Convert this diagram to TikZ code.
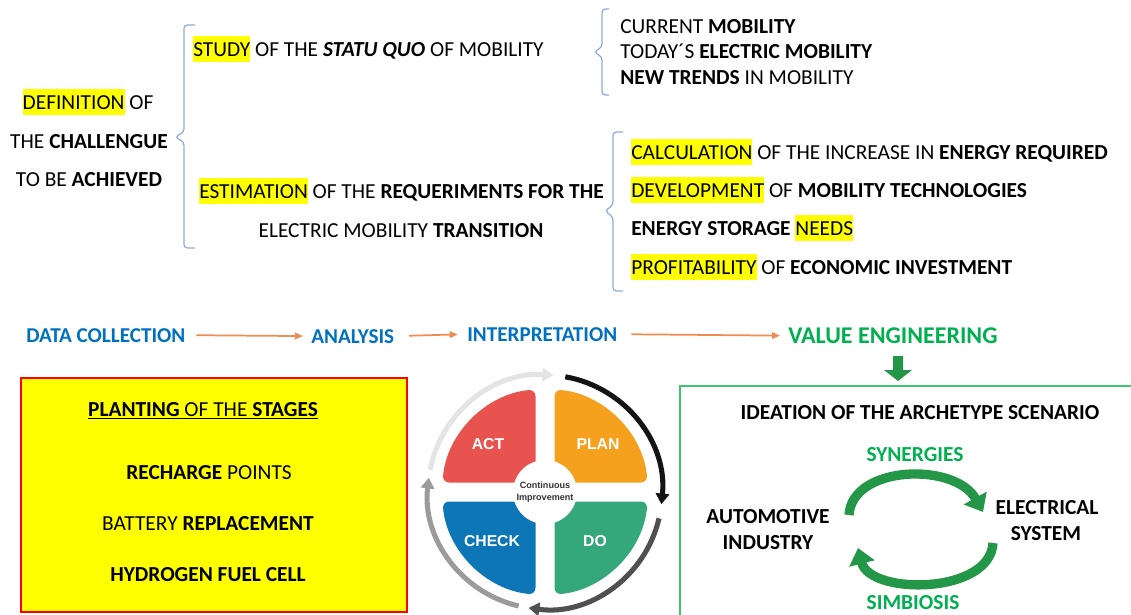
\documentclass[tikz,border=0pt]{standalone}
\usepackage{fontspec}
\setmainfont{Carlito}
\newfontfamily\arialf{Liberation Sans}
\usetikzlibrary{arrows.meta}
\definecolor{hlyellow}{RGB}{255,255,0}
\definecolor{bracecol}{RGB}{143,170,220}
\definecolor{rowblue}{RGB}{0,112,192}
\definecolor{vegreen}{RGB}{0,176,80}
\definecolor{arrorange}{RGB}{240,140,80}
\definecolor{boxgreen}{RGB}{60,200,110}
\definecolor{actred}{RGB}{233,83,79}
\definecolor{planorange}{RGB}{245,161,30}
\definecolor{checkblue}{RGB}{12,118,182}
\definecolor{dogreen}{RGB}{52,168,122}
\definecolor{cyclegreen}{RGB}{36,150,72}
\definecolor{ringA}{RGB}{228,228,228}
\definecolor{ringB}{RGB}{20,20,20}
\definecolor{ringC}{RGB}{80,80,80}
\definecolor{ringD}{RGB}{155,155,155}
\definecolor{ctext}{RGB}{50,50,50}
\newcommand\hl[1]{{\setlength{\fboxsep}{0pt}\colorbox{hlyellow}{\rule[-0.29em]{0pt}{1.22em}#1}}}
\begin{document}
\begin{tikzpicture}[x=0.75pt,y=-0.75pt,
  txt/.style={inner sep=0pt, font=\fontsize{16.05}{19}\selectfont, anchor=base west},
  ctxt/.style={txt, anchor=base},
  btxt/.style={ctxt, font=\fontsize{16.05}{19}\selectfont\bfseries},
  rowtxt/.style={inner sep=0pt, font=\fontsize{15.85}{19}\selectfont\bfseries, text=rowblue, anchor=base west},
  gtxt/.style={ctxt, font=\fontsize{16.05}{19}\selectfont\bfseries, text=vegreen},
  bracepath/.style={draw=bracecol, line width=0.9pt, rounded corners=2.5pt},
  orangearr/.style={draw=arrorange, line width=1.3pt, -{Triangle[length=6pt,width=5pt]}},
  ring/.style={line width=3.8pt, -{Triangle[length=8pt,width=10pt]}},
  cyclearr/.style={draw=cyclegreen, line width=7pt, -{Triangle[length=12pt,width=19pt]}},
  pdca/.style={inner sep=0pt, text=white, font={\arialf\bfseries\fontsize{11.8}{13}\selectfont}}
]
\useasboundingbox (0,0) rectangle (1131,614);

% ---------- left block ----------
\node[ctxt] (def1) at (88,109) {\hl{DEFINITION} OF};
\node[ctxt] (def2) at (89,148) {THE \textbf{CHALLENGUE}};
\node[ctxt] (def3) at (89,186) {TO BE \textbf{ACHIEVED}};

\draw[bracepath] (195,25) -- (184,25) -- (184,132) -- (175,137) -- (184,142) -- (184,248) -- (195,248);

\node[txt] (study) at (193,56) {\hl{STUDY} OF THE \textbf{\textit{STATU QUO}} OF MOBILITY};
\node[txt] (estim) at (199,198) {\hl{ESTIMATION} OF THE \textbf{REQUERIMENTS FOR THE}};
\node[ctxt] (estim2) at (401,237) {ELECTRIC MOBILITY \textbf{TRANSITION}};

\draw[bracepath] (609,9) -- (602,9) -- (602,47) -- (594,52) -- (602,57) -- (602,95) -- (609,95);
\node[txt] (cur) at (620,33) {CURRENT \textbf{MOBILITY}};
\node[txt] (tod) at (620,58) {TODAY´S \textbf{ELECTRIC MOBILITY}};
\node[txt] (new) at (620,84) {\textbf{NEW TRENDS} IN MOBILITY};

\draw[bracepath] (623,132) -- (613,132) -- (613,205) -- (605,211) -- (613,217) -- (613,291) -- (623,291);
\node[txt] (calc) at (631,159) {\hl{CALCULATION} OF THE INCREASE IN \textbf{ENERGY REQUIRED}};
\node[txt] (dev) at (631,197) {\hl{DEVELOPMENT} OF \textbf{MOBILITY TECHNOLOGIES}};
\node[txt] (stor) at (631,235) {\textbf{ENERGY STORAGE} \hl{NEEDS}};
\node[txt] (prof) at (631,274) {\hl{PROFITABILITY} OF \textbf{ECONOMIC INVESTMENT}};

% ---------- process row ----------
\node[rowtxt] (dc) at (26,342) {DATA COLLECTION};
\node[rowtxt] (an) at (311,343) {ANALYSIS};
\node[rowtxt] (ip) at (467,341) {INTERPRETATION};
\node[rowtxt, text=vegreen, font=\fontsize{18}{20}\selectfont\bfseries] (ve) at (788,343.5) {VALUE ENGINEERING};
\draw[orangearr, shorten <=8pt, shorten >=6pt] (dc.east) -- (an.west);
\draw[orangearr, shorten <=11pt, shorten >=7pt] (an.east) -- (ip.west);
\draw[orangearr, shorten <=10.5pt, shorten >=6pt] (ip.east) -- (ve.west);

% green block arrow
\fill[cyclegreen] (893,356) -- (903,356) -- (903,370) -- (912,370) -- (898,381) -- (884,370) -- (893,370) -- cycle;

% ---------- yellow box ----------
\draw[fill=hlyellow, draw=red, line width=0.8pt] (21,378) rectangle (407,612);
\node[ctxt] (plant) at (203,416) {\underline{\textbf{PLANTING} OF THE \textbf{STAGES}}};
\node[ctxt] (rech) at (209,479) {\textbf{RECHARGE} POINTS};
\node[ctxt] (batt) at (208,530) {BATTERY \textbf{REPLACEMENT}};
\node[ctxt] (hydro) at (208,581) {\textbf{HYDROGEN FUEL CELL}};

% ---------- PDCA ----------
\begin{scope}[shift={(545,492)}, yscale=-1]
  \fill[planorange, rounded corners=5pt] (9.5,9.5) -- (84.71:103) arc[start angle=84.71, end angle=5.29, radius=103] -- cycle;
  \fill[actred, rounded corners=5pt] (-9.5,9.5) -- (95.29:103) arc[start angle=95.29, end angle=174.71, radius=103] -- cycle;
  \fill[checkblue, rounded corners=5pt] (-9.5,-9.5) -- (185.29:103) arc[start angle=185.29, end angle=264.71, radius=103] -- cycle;
  \fill[dogreen, rounded corners=5pt] (9.5,-9.5) -- (275.29:103) arc[start angle=275.29, end angle=354.71, radius=103] -- cycle;
  \fill[white] (0,0) circle[radius=32];
  \node[inner sep=0pt, align=center, text=ctext, font={\arialf\bfseries\fontsize{6.8}{9}\selectfont}] (ci) at (0,0) {Continuous\\Improvement};
  \node[pdca] (act) at (-57,48) {ACT};
  \node[pdca] (plan) at (53,48) {PLAN};
  \node[pdca] (check) at (-53,-49) {CHECK};
  \node[pdca] (do) at (50,-49) {DO};
  \draw[ring, ringA] (169:117) arc[start angle=169, end angle=86, radius=117];
  \draw[ring, ringB] (80:117) arc[start angle=80, end angle=-6, radius=117];
  \draw[ring, ringC] (-13:117) arc[start angle=-13, end angle=-98, radius=117];
  \draw[ring, ringD] (-103:117) arc[start angle=-103, end angle=-187, radius=117];
\end{scope}

% ---------- green box ----------
\draw[boxgreen, line width=1pt] (1140,386) -- (680,386) -- (680,625);
\node[btxt] (idea) at (920,419) {IDEATION OF THE ARCHETYPE SCENARIO};
\node[gtxt] (syn) at (915,461) {SYNERGIES};
\node[gtxt] (sim) at (913,609) {SIMBIOSIS};
\node[btxt] (auto1) at (768,523) {AUTOMOTIVE};
\node[btxt] (auto2) at (768,549) {INDUSTRY};
\node[btxt] (elec1) at (1047,514) {ELECTRICAL};
\node[btxt] (elec2) at (1046,540) {SYSTEM};
\coordinate (ta) at (849,515);
\coordinate (tb) at (983,512);
\coordinate (ba) at (993,543);
\coordinate (bb) at (858,548);
\draw[cyclearr] (ta) .. controls (852,465) and (955,462) .. (tb);
\draw[cyclearr] (ba) .. controls (990,595) and (870,595) .. (bb);
\end{tikzpicture}
\end{document}
